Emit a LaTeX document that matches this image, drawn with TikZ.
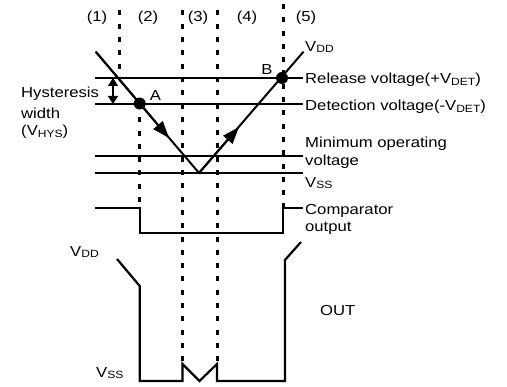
\documentclass[tikz,border=0pt]{standalone}
\usepackage{fontspec}
\setmainfont{Liberation Sans}[FakeStretch=1.15]
\usetikzlibrary{arrows.meta}
\newcommand\sbs[1]{\raisebox{-1.5pt}{\fontsize{10.5}{11}\selectfont #1}}
\begin{document}
\begin{tikzpicture}[x=1pt,y=-1pt,
  level/.style={line width=2pt},
  wave/.style={line width=2.2pt, line join=miter},
  dotline/.style={line width=3pt, dash pattern=on 5pt off 8.3pt},
  lbl/.style={inner sep=0pt, anchor=west, font=\fontsize{14.5}{16}\selectfont},
  clbl/.style={inner sep=0pt, font=\fontsize{14.5}{16}\selectfont},
  dot/.style={circle, fill=black, inner sep=0pt, minimum size=12pt},
  bigtip/.style={-{Triangle[length=17pt,width=12pt]}},
  hys/.style={line width=1.6pt, {Triangle[length=8pt,width=10pt]}-{Triangle[length=8pt,width=10pt]}}]
\useasboundingbox (0,0) rectangle (507,387);

% dotted region boundaries
\coordinate (d1t) at (119.3,10.5);  \coordinate (d1b) at (119.3,78);
\coordinate (d2t) at (139.7,104); \coordinate (d2b) at (139.7,207);
\coordinate (d3t) at (182.5,10.5);  \coordinate (d3b) at (182.5,364);
\coordinate (d4t) at (217,10.5);    \coordinate (d4b) at (217,364);
\coordinate (d5t) at (283,4);    \coordinate (d5b) at (283,208);
\draw[dotline] (d1t) -- (d1b);
\draw[dotline] (d2t) -- (d2b);
\draw[dotline] (d3t) -- (d3b);
\draw[dotline] (d4t) -- (d4b);
\draw[dotline] (d5t) -- (d5b);

% region labels
\node[clbl] (r1) at (97,18) {(1)};
\node[clbl] (r2) at (148,18) {(2)};
\node[clbl] (r3) at (198,18) {(3)};
\node[clbl] (r4) at (247,18) {(4)};
\node[clbl] (r5) at (306,18) {(5)};

% voltage levels
\coordinate (rl) at (95,78);  \coordinate (rr) at (303,78);
\coordinate (dl) at (95,104); \coordinate (dr) at (303,104);
\coordinate (ml) at (95,156); \coordinate (mr) at (303,156);
\coordinate (sl) at (95,173); \coordinate (sr) at (303,173);
\draw[level] (rl) -- (rr);
\draw[level] (dl) -- (dr);
\draw[level] (ml) -- (mr);
\draw[level] (sl) -- (sr);

% V-shaped supply curve
\coordinate (vtop) at (95.7,51.7);
\coordinate (vbot) at (199,173);
\coordinate (vdd) at (303.5,51.7);
\coordinate (tipD) at (169,138);
\coordinate (tipU) at (239,127);
\draw[level] (vtop) -- (vbot) -- (vdd);
\draw[level,bigtip] (vtop) -- (tipD);
\draw[level,bigtip] (vbot) -- (tipU);

\node[dot] (A) at (139.7,103.5) {};
\node[dot] (B) at (282,78) {};
\node[clbl] (Alb) at (155.5,96) {A};
\node[clbl] (Blb) at (267,70) {B};

% hysteresis arrow
\coordinate (h1) at (113,78); \coordinate (h2) at (113,104);
\draw[hys] (h1) -- (h2);
\node[lbl] (hy1) at (21,94) {Hysteresis};
\node[lbl] (hy2) at (21,113) {width};
\node[lbl] (hy3) at (21,132) {(V\sbs{HYS})};

% right labels
\node[lbl] (vddl) at (305,47) {V\sbs{DD}};
\node[lbl] (rel) at (305,80) {Release voltage(+V\sbs{DET})};
\node[lbl] (det) at (305,107) {Detection voltage(-V\sbs{DET})};
\node[lbl] (min1) at (305,144) {Minimum operating};
\node[lbl] (min2) at (305,162) {voltage};
\node[lbl] (vssl) at (305,183) {V\sbs{SS}};

% comparator output
\coordinate (c1) at (95,208); \coordinate (c2) at (139.7,208);
\coordinate (c3) at (139.7,233); \coordinate (c4) at (283,233);
\coordinate (c5) at (283,208); \coordinate (c6) at (303,208);
\draw[wave] (c1) -- (c2) -- (c3) -- (c4) -- (c5) -- (c6);
\node[lbl] (cmp1) at (305,211) {Comparator};
\node[lbl] (cmp2) at (305,228) {output};

% OUT waveform
\coordinate (o1) at (117,259); \coordinate (o2) at (139.7,286);
\coordinate (o3) at (139.7,381); \coordinate (o4) at (182.5,381);
\coordinate (o5) at (182.5,364); \coordinate (o6) at (199.5,381);
\coordinate (o7) at (217,364); \coordinate (o8) at (217,381);
\coordinate (o9) at (285,381); \coordinate (o10) at (285,260);
\coordinate (o11) at (301,242);
\draw[wave] (o1) -- (o2) -- (o3) -- (o4) -- (o5) -- (o6) -- (o7) -- (o8) -- (o9) -- (o10) -- (o11);
\node[lbl] (ovdd) at (70,252) {V\sbs{DD}};
\node[lbl] (ovss) at (96,373) {V\sbs{SS}};
\node[lbl] (out) at (320,311) {OUT};
\end{tikzpicture}
\end{document}
